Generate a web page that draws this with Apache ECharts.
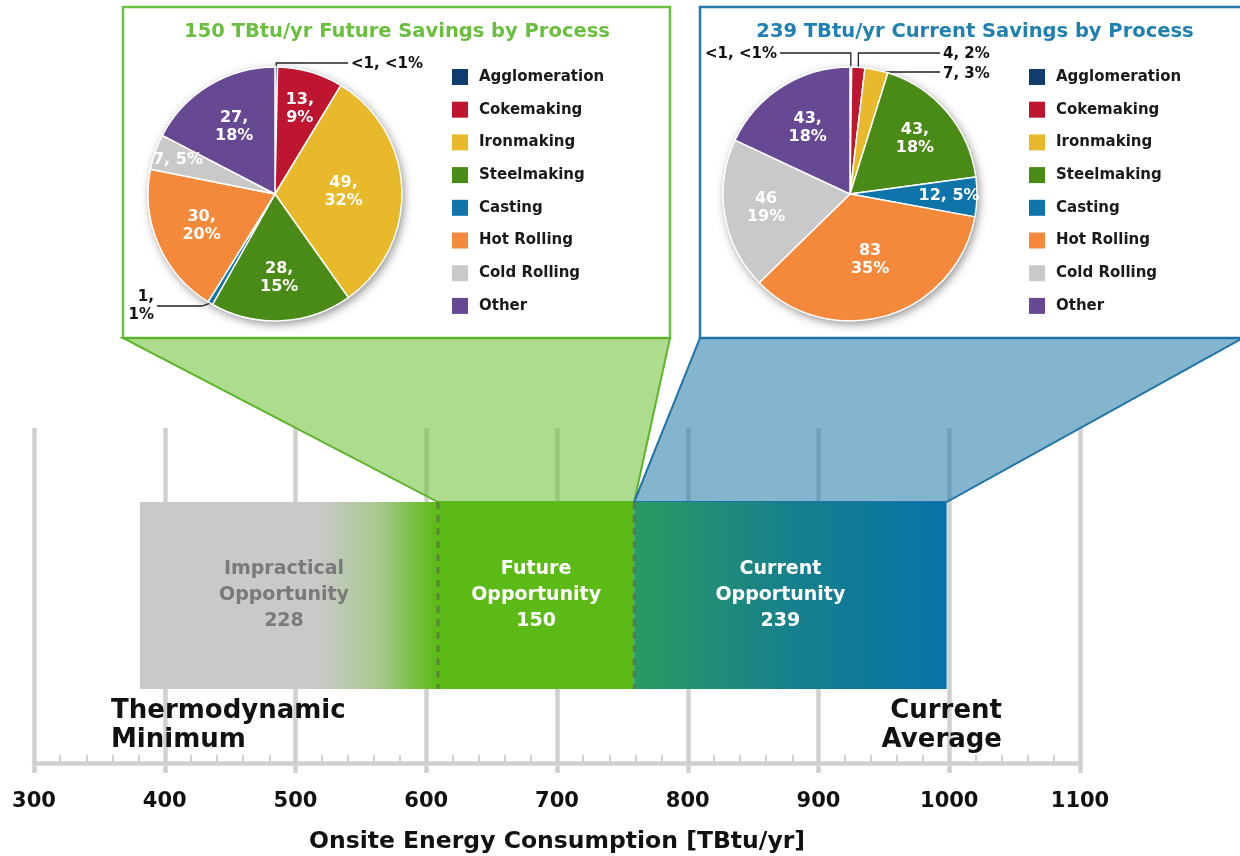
<!DOCTYPE html>
<html>
<head>
<meta charset="utf-8">
<script src="https://cdn.jsdelivr.net/npm/echarts@6/dist/echarts.min.js"></script>
<style>
  html, body { margin: 0; padding: 0; background: #fff; }
  #chart { width: 1240px; height: 856px; }
</style>
</head>
<body>
<div id="chart"></div>
<script>
// ---- data ----
const processes = ['Agglomeration', 'Cokemaking', 'Ironmaking', 'Steelmaking', 'Casting', 'Hot Rolling', 'Cold Rolling', 'Other'];
const processColors = ['#0f3d6d', '#be1531', '#e7b92b', '#4a8a17', '#0e74aa', '#f5893b', '#c8c9c8', '#674993'];

const futureSavings = [0.5, 13, 49, 28, 1, 30, 7, 27];
const futureLabels = ['<1, <1%', '13,\n9%', '49,\n32%', '28,\n15%', '1,\n1%', '30,\n20%', '7, 5%', '27,\n18%'];

const currentSavings = [0.5, 4, 7, 43, 12, 83, 46, 43];
const currentLabels = ['<1, <1%', '4, 2%', '7, 3%', '43,\n18%', '12, 5%', '83\n35%', '46\n19%', '43,\n18%'];

const bandNames = ['Impractical\nOpportunity', 'Future\nOpportunity', 'Current\nOpportunity'];
const bandValues = [228, 150, 239];
const thermoMin = 381;

const xTicks = [300, 400, 500, 600, 700, 800, 900, 1000, 1100];

// ---- layout ----
const FONT = '"DejaVu Sans", sans-serif';
const PIE_R = 127;
const futureCenter = [275, 194];
const currentCenter = [850, 194];
const BAR_TOP = 77.9, BAR_BOTTOM = 22.1;   // y-axis units of the hidden axis
const FUNNEL_TOP_Y = 338;
const funnelTops = [[123, 670], [700, 1243]];

// build band start/end from the values
let acc = thermoMin;
const bands = bandValues.map(v => { const b = [acc, acc + v, v]; acc += v; return b; });

const bandFills = [
  new echarts.graphic.LinearGradient(0, 0, 1, 0, [
    { offset: 0, color: '#c9c9c9' }, { offset: 0.59, color: '#c9c9c9' },
    { offset: 0.8, color: '#a8c98f' }, { offset: 0.99, color: '#5dba18' }]),
  '#5cba16',
  new echarts.graphic.LinearGradient(0, 0, 1, 0, [
    { offset: 0, color: '#2b9a60' }, { offset: 0.5, color: '#16808c' }, { offset: 1, color: '#0872aa' }])
];
const bandTextColors = ['#7a7a7a', '#ffffff', '#ffffff'];
const bandLabelDx = [-5, 0, -10];

const funnelFills = ['rgba(108,192,50,0.55)', 'rgba(31,120,168,0.55)'];
const funnelStrokes = ['#5db52c', '#1f73a6'];

// outside labels of the pies
const futureOutside = {
  0: { x: 351, y: 64, align: 'left', lineY: 63, endX: 348 },
  4: { x: 154, y: 306, align: 'right', lineY: 306, endX: 157, viaX: 202 }
};
const currentOutside = {
  0: { x: 777, y: 54, align: 'right', lineY: 53, endX: 780 },
  1: { x: 943, y: 54, align: 'left', lineY: 53, endX: 940 },
  2: { x: 943, y: 74, align: 'left', lineY: 72, endX: 940 }
};
const futureFracs = [0, 0.70, 0.54, 0.66, 0, 0.63, 0.81, 0.62];
const currentFracs = [0, 0, 0, 0.67, 0.78, 0.54, 0.67, 0.62];

function makeLabelLayout(center, fracs, outside) {
  return function (p) {
    const i = p.dataIndex;
    const o = outside[i];
    if (o) {
      const s = p.labelLinePoints ? p.labelLinePoints[0] : [center[0], center[1] - PIE_R];
      const via = [o.viaX != null ? o.viaX : s[0], o.lineY];
      return { x: o.x, y: o.y, align: o.align, verticalAlign: 'middle',
        labelLinePoints: [s, via, [o.endX, o.lineY]] };
    }
    const r = p.labelRect;
    const dx = r.x + r.width / 2 - center[0], dy = r.y + r.height / 2 - center[1];
    const d = Math.hypot(dx, dy) || 1;
    const f = fracs[i] * PIE_R;
    return { x: center[0] + dx / d * f, y: center[1] + dy / d * f, align: 'center', verticalAlign: 'middle' };
  };
}

function pieSeries(values, labels, center, fracs, outside) {
  return {
    type: 'pie', center: center, radius: PIE_R, startAngle: 90, clockwise: true,
    avoidLabelOverlap: false, z: 4, animation: false,
    itemStyle: { borderColor: '#fff', borderWidth: 1.5 },
    label: {
      show: true, position: 'inside', color: '#fff', fontSize: 16, fontWeight: 'bold',
      lineHeight: 18, fontFamily: FONT, formatter: p => labels[p.dataIndex]
    },
    labelLine: { show: false },
    emphasis: { disabled: true },
    labelLayout: makeLabelLayout(center, fracs, outside),
    data: values.map((v, i) => {
      const item = { name: processes[i], value: v, itemStyle: { color: processColors[i] } };
      if (outside[i]) {
        item.label = { position: 'outside', color: '#111', fontSize: 15 };
        item.labelLine = { show: true, length: 6, length2: 10, lineStyle: { color: '#222', width: 1.3 } };
      }
      return item;
    })
  };
}

function pieShadow(center) {
  return {
    type: 'pie', center: center, radius: PIE_R, silent: true, z: 3, animation: false,
    label: { show: false }, labelLine: { show: false },
    itemStyle: { color: '#fff', shadowBlur: 10, shadowOffsetX: 2, shadowOffsetY: 3, shadowColor: 'rgba(0,0,0,0.45)' },
    data: [{ value: 1, name: 'shadow' }]
  };
}

function renderFunnel(params, api) {
  const i = params.dataIndex;
  const b0 = api.coord([api.value(0), BAR_TOP]);
  const b1 = api.coord([api.value(1), BAR_TOP]);
  return {
    type: 'polygon',
    shape: { points: [[funnelTops[i][0], FUNNEL_TOP_Y], [funnelTops[i][1], FUNNEL_TOP_Y], b1, b0] },
    style: { fill: funnelFills[i], stroke: funnelStrokes[i], lineWidth: 2 }
  };
}

function renderBand(params, api) {
  const i = params.dataIndex;
  const top0 = api.coord([api.value(0), BAR_TOP]);
  const top1 = api.coord([api.value(1), BAR_TOP]);
  const bot = api.coord([api.value(0), BAR_BOTTOM]);
  const x0 = top0[0], x1 = top1[0], yT = top0[1], yB = bot[1];
  const children = [{
    type: 'rect', shape: { x: x0, y: yT, width: x1 - x0, height: yB - yT },
    style: { fill: bandFills[i] }
  }];
  if (i > 0) {
    children.push({
      type: 'line', shape: { x1: x0, y1: yT, x2: x0, y2: yB },
      style: { stroke: 'rgba(90,90,90,0.55)', lineWidth: 3, lineDash: [7, 6] }
    });
  }
  children.push({
    type: 'text',
    style: {
      text: bandNames[i] + '\n' + api.value(2), x: (x0 + x1) / 2 + bandLabelDx[i], y: (yT + yB) / 2,
      align: 'center', verticalAlign: 'middle', fill: bandTextColors[i],
      fontSize: 19, lineHeight: 26, fontWeight: 'bold', fontFamily: FONT
    }
  });
  return { type: 'group', children: children };
}

const chart = echarts.init(document.getElementById('chart'));

const legendCommon = {
  orient: 'vertical', top: 69, padding: 0, icon: 'rect', itemWidth: 16, itemHeight: 16, itemGap: 16.7,
  selectedMode: false, data: processes, itemStyle: { borderWidth: 0 },
  textStyle: { fontSize: 15, fontWeight: 'bold', color: '#1a1a1a', fontFamily: FONT, padding: [0, 0, 0, 6] }
};

const option = {
  animation: false,
  backgroundColor: '#fff',
  title: [
    { text: '150 TBtu/yr Future Savings by Process', left: 397, top: 22, textAlign: 'center', padding: 0,
      textStyle: { fontSize: 19.5, fontWeight: 'bold', color: '#6abf40', fontFamily: FONT } },
    { text: '239 TBtu/yr Current Savings by Process', left: 975, top: 22, textAlign: 'center', padding: 0,
      textStyle: { fontSize: 19.5, fontWeight: 'bold', color: '#2080b0', fontFamily: FONT } }
  ],
  legend: [
    Object.assign({}, legendCommon, { left: 452 }),
    Object.assign({}, legendCommon, { left: 1029 })
  ],
  grid: [
    { left: 34, right: 160, top: 428, bottom: 93, outerBoundsMode: 'none' },
    { left: 34, right: 160, top: 428, bottom: 93, outerBoundsMode: 'none' }
  ],
  xAxis: [
    {
      type: 'value', gridIndex: 0, min: xTicks[0], max: xTicks[xTicks.length - 1], interval: xTicks[1] - xTicks[0],
      name: 'Onsite Energy Consumption [TBtu/yr]', nameLocation: 'middle', nameGap: 67,
      nameTextStyle: { fontSize: 23.5, fontWeight: 'bold', color: '#111', fontFamily: FONT },
      axisLine: { show: true, onZero: false, lineStyle: { color: '#d0d0d0', width: 4.5 } },
      axisTick: { show: true, length: 10, lineStyle: { color: '#d0d0d0', width: 4.5 } },
      axisLabel: { fontSize: 21, fontWeight: 'bold', color: '#111', margin: 28, fontFamily: FONT,
        formatter: v => String(v) },
      splitLine: { show: true, lineStyle: { color: '#d0d0d0', width: 4.5 } }
    },
    {
      type: 'value', gridIndex: 1, min: xTicks[0], max: xTicks[xTicks.length - 1], interval: xTicks[1] - xTicks[0],
      axisLine: { show: false, onZero: false }, axisLabel: { show: false },
      axisTick: { show: false, inside: true },
      minorTick: { show: true, splitNumber: 5, length: 8, lineStyle: { color: '#d0d0d0', width: 2 } },
      splitLine: { show: false }
    }
  ],
  yAxis: [
    { type: 'value', gridIndex: 0, min: 0, max: 100, show: false },
    { type: 'value', gridIndex: 1, min: 0, max: 100, show: false }
  ],
  graphic: [
    { type: 'rect', z: 1, shape: { x: 123, y: 7, width: 547, height: 331 },
      style: { fill: 'rgba(0,0,0,0)', stroke: '#6cc13f', lineWidth: 2.5 } },
    { type: 'rect', z: 1, shape: { x: 700, y: 7, width: 560, height: 331 },
      style: { fill: 'rgba(0,0,0,0)', stroke: '#2379a9', lineWidth: 2.5 } },
    { type: 'text', z: 10, x: 111, y: 697,
      style: { text: 'Thermodynamic\nMinimum', fontSize: 26, lineHeight: 29, fontWeight: 'bold', fill: '#111',
        fontFamily: FONT, align: 'left', verticalAlign: 'top' } },
    { type: 'text', z: 10, x: 1002, y: 697,
      style: { text: 'Current\nAverage', fontSize: 26, lineHeight: 29, fontWeight: 'bold', fill: '#111',
        fontFamily: FONT, align: 'right', verticalAlign: 'top' } }
  ],
  series: [
    {
      type: 'custom', name: 'funnels', xAxisIndex: 0, yAxisIndex: 0, clip: false, z: 2, silent: true,
      renderItem: renderFunnel,
      data: [[bands[1][0], bands[1][1]], [bands[2][0], bands[2][1]]]
    },
    {
      type: 'custom', name: 'bands', xAxisIndex: 0, yAxisIndex: 0, clip: false, z: 3, silent: true,
      renderItem: renderBand,
      data: bands
    },
    pieShadow(futureCenter),
    pieSeries(futureSavings, futureLabels, futureCenter, futureFracs, futureOutside),
    pieShadow(currentCenter),
    pieSeries(currentSavings, currentLabels, currentCenter, currentFracs, currentOutside)
  ]
};

chart.setOption(option);
</script>
</body>
</html>
